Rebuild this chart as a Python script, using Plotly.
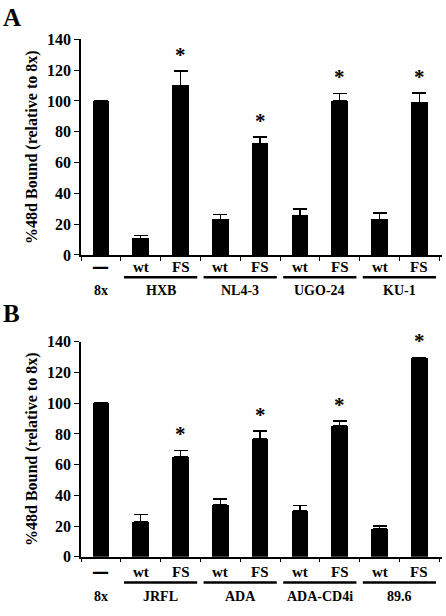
import plotly.graph_objects as go

W, H = 446, 616

# ---- data ----
bar_labels = ["—", "wt", "FS", "wt", "FS", "wt", "FS", "wt", "FS"]
groups_a = ["8x", "HXB", "NL4-3", "UGO-24", "KU-1"]
groups_b = ["8x", "JRFL", "ADA", "ADA-CD4i", "89.6"]
values_a = [100, 10.5, 110, 23, 72.5, 25.5, 100, 23, 98.8]
errors_a = [None, 2.1, 9.4, 3.4, 4.2, 4.3, 5.0, 4.4, 6.5]
values_b = [100, 22.8, 65, 34, 76.6, 29.8, 85.5, 18, 129.4]
errors_b = [None, 4.6, 4.3, 3.6, 5.3, 3.6, 2.8, 2.1, 0.5]
stars_a = ["", "", "*", "", "*", "", "*", "", "*"]
stars_b = ["", "", "*", "", "*", "", "*", "", "*"]
y_ticks = [0, 20, 40, 60, 80, 100, 120, 140]
y_title = "%48d Bound (relative to 8x)"

FONT = "Liberation Serif, Times New Roman, serif"

def py(px):
    return 1 - px / H

x_pos = list(range(len(bar_labels)))

panels = [
    dict(vals=values_a, errs=errors_a, stars=stars_a, groups=groups_a,
         xa="x", ya="y", dom=(py(254), py(32.3)),
         lab_y=py(266.5), line_y=py(277), grp_y=py(290.7), letter="A", letter_y=py(10)),
    dict(vals=values_b, errs=errors_b, stars=stars_b, groups=groups_b,
         xa="x2", ya="y2", dom=(py(564.3), py(343.3)),
         lab_y=py(580), line_y=py(590.7), grp_y=py(605), letter="B", letter_y=py(314)),
]

fig = go.Figure()
annotations = []
shapes = []

for i, p in enumerate(panels):
    errs = [e if e is not None else 0 for e in p["errs"]]
    fig.add_trace(go.Bar(
        x=x_pos, y=p["vals"], xaxis=p["xa"], yaxis=p["ya"],
        width=0.42, marker=dict(color="black", line=dict(width=0)),
        error_y=dict(type="data", array=[e if e is not None else None for e in p["errs"]],
                     arrayminus=[0] * len(errs), symmetric=False,
                     color="black", thickness=1.5, width=7),
        showlegend=False,
    ))
    # stars
    for xi, (v, e, s) in enumerate(zip(p["vals"], errs, p["stars"])):
        if s:
            annotations.append(dict(
                x=xi, y=v + e, xref=p["xa"], yref=p["ya"], text="<b>*</b>",
                showarrow=False, yanchor="bottom", yshift=2,
                font=dict(family=FONT, size=21, color="black")))
    # bar labels
    for xi, lab in enumerate(bar_labels):
        if lab == "—":
            annotations.append(dict(
                x=xi, y=p["lab_y"], xref=p["xa"], yref="paper", text="<b>%s</b>" % lab,
                showarrow=False, yanchor="middle",
                font=dict(family="DejaVu Sans", size=17, color="black")))
        else:
            annotations.append(dict(
                x=xi, y=p["lab_y"], xref=p["xa"], yref="paper", text="<b>%s</b>" % lab,
                showarrow=False, yanchor="middle",
                font=dict(family=FONT, size=15, color="black")))
    # group labels & underlines
    for gi, g in enumerate(p["groups"]):
        if gi == 0:
            cx = 0
        else:
            start = 1 + 2 * (gi - 1)
            cx = start + 0.5
            shapes.append(dict(type="line", xref=p["xa"], yref="paper",
                               x0=start - 0.42, x1=start + 1.42,
                               y0=p["line_y"], y1=p["line_y"],
                               line=dict(color="black", width=2.5)))
        annotations.append(dict(
            x=cx, y=p["grp_y"], xref=p["xa"], yref="paper", text="<b>%s</b>" % g,
            showarrow=False, yanchor="middle",
            font=dict(family=FONT, size=14, color="black")))
    annotations.append(dict(
        x=0.0, y=p["letter_y"], xref="paper", yref="paper",
        text="<b>%s</b>" % p["letter"], showarrow=False, xanchor="left", yanchor="middle",
        xshift=1, font=dict(family=FONT, size=25, color="black")))

xaxis_common = dict(
    domain=[81 / W, 442 / W], range=[-0.5, 8.57],
    tickvals=[k - 0.5 for k in range(10)], ticktext=[""] * 10,
    ticks="outside", ticklen=4, tickwidth=1.2, tickcolor="black",
    showline=True, linecolor="black", linewidth=1.5,
    showgrid=False, zeroline=False, fixedrange=True,
)
yaxis_common = dict(
    range=[0, 140], tickvals=y_ticks,
    ticks="outside", ticklen=5, tickwidth=1.2, tickcolor="black",
    showline=True, linecolor="black", linewidth=1.5,
    showgrid=False, zeroline=False,
    tickfont=dict(family=FONT, size=16, color="black", weight="bold"),
    title=dict(text=y_title, font=dict(family=FONT, size=16, color="black", weight="bold"),
               standoff=5),
)

fig.update_layout(
    width=W, height=H, margin=dict(l=0, r=0, t=0, b=0),
    paper_bgcolor="white", plot_bgcolor="white",
    xaxis=dict(xaxis_common, anchor="y"),
    yaxis=dict(yaxis_common, domain=list(panels[0]["dom"]), anchor="x"),
    xaxis2=dict(xaxis_common, anchor="y2"),
    yaxis2=dict(yaxis_common, domain=list(panels[1]["dom"]), anchor="x2"),
    annotations=annotations, shapes=shapes, bargap=0,
)

fig.write_html("out.html")
